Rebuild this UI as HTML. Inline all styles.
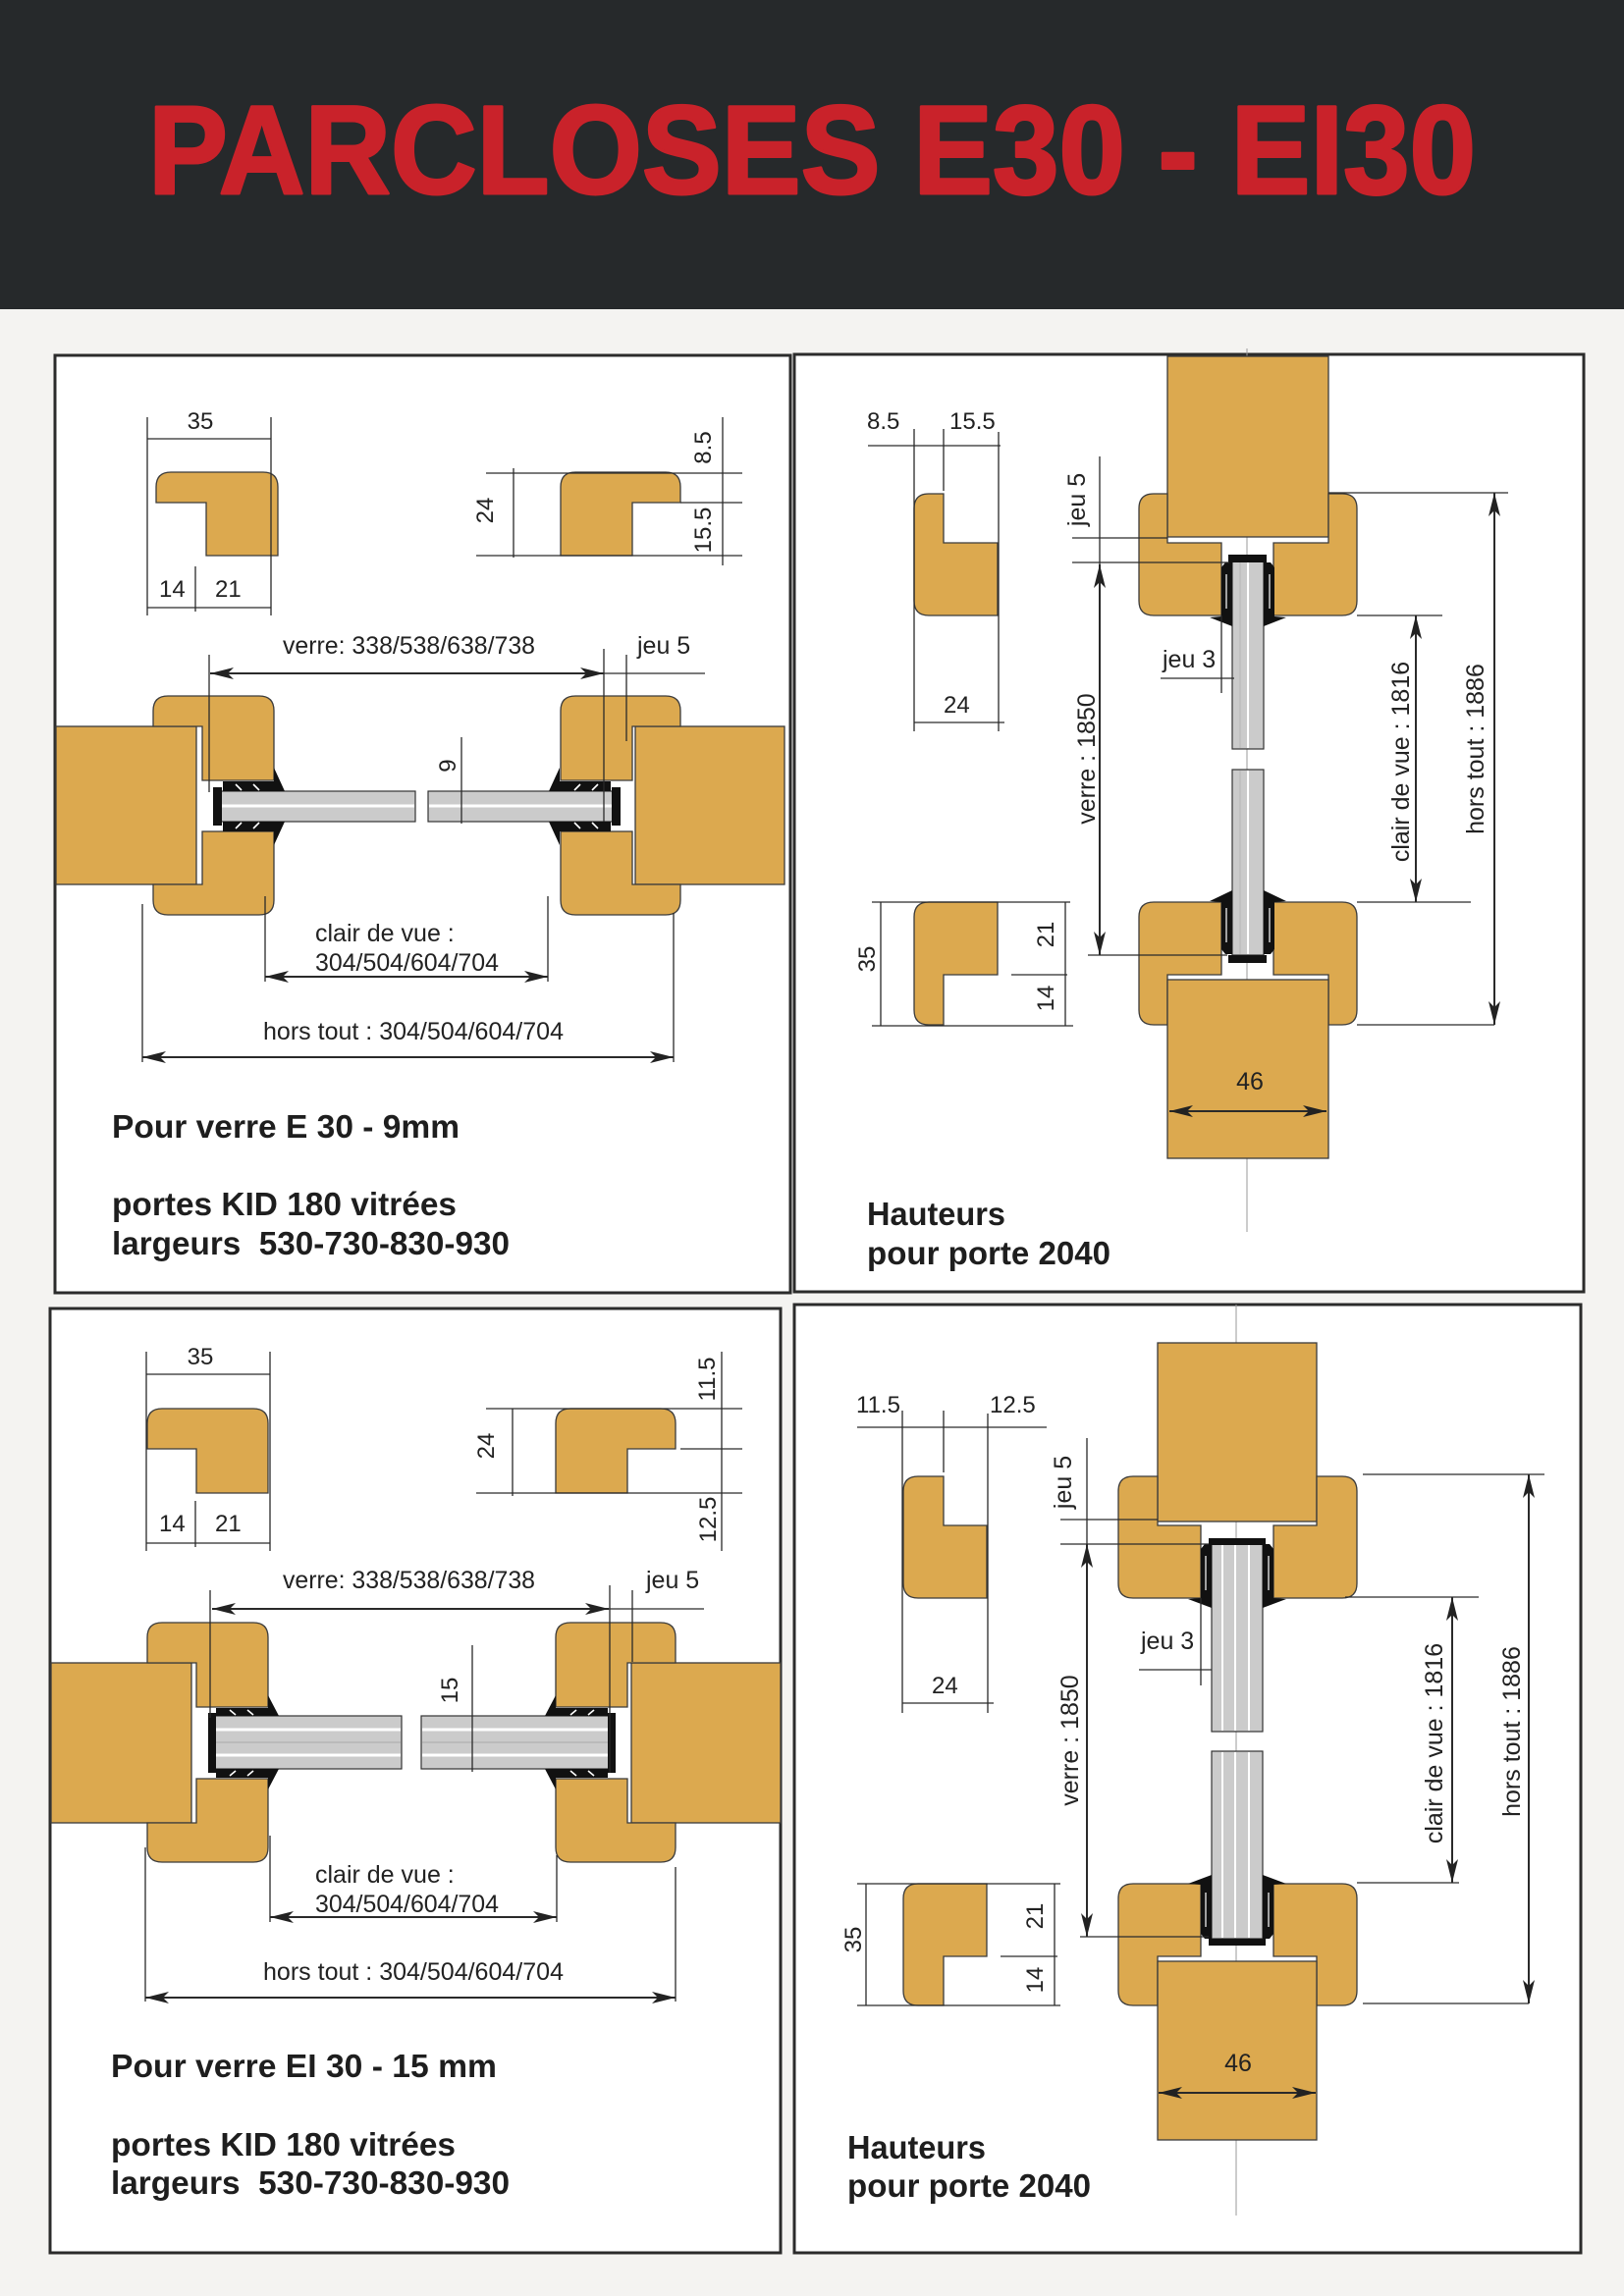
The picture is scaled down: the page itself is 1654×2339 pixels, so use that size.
<!DOCTYPE html>
<html><head><meta charset="utf-8">
<style>
html,body{margin:0;padding:0;background:#f4f3f1;}
svg{display:block}
.w{fill:#dca94f;stroke:#3b3b3b;stroke-width:1.3}
.d{stroke:#2a2a2a;stroke-width:1.3;fill:none}
.c{stroke:#9a9a9a;stroke-width:1;fill:none}
.a{stroke:#2a2a2a;stroke-width:2;fill:none;marker-start:url(#m);marker-end:url(#m)}
.t{font-family:"Liberation Sans",Arial,sans-serif;font-size:24px;fill:#222}
.r{font-size:25px}
.b{font-family:"Liberation Sans",Arial,sans-serif;font-weight:bold;font-size:33px;fill:#1e1e1e}
.g{fill:#cbcbcb;stroke:#333;stroke-width:1.2}
.k{fill:#111}
.p{fill:#fff;stroke:#2b2b2b;stroke-width:3}
.s{stroke:#fff;stroke-width:1.6;fill:none}
.s1{stroke:#fff;stroke-width:1.2;fill:none}
</style></head>
<body>
<svg width="1654" height="2339" viewBox="0 0 1654 2339" xmlns="http://www.w3.org/2000/svg">
<defs>
<marker id="m" viewBox="0 0 24 12" refX="24" refY="6" markerWidth="24" markerHeight="12" markerUnits="userSpaceOnUse" orient="auto-start-reverse"><path d="M0,0L24,6L0,12L6,6Z" fill="#222"/></marker>
</defs>
<rect x="0" y="0" width="1654" height="2339" fill="#f4f3f1"/>
<rect x="0" y="0" width="1654" height="315" fill="#26292b"/>
<text x="151" y="197" font-family="Liberation Sans, Arial, sans-serif" font-weight="bold" font-size="128" fill="#c9222a" stroke="#c9222a" stroke-width="3" stroke-linejoin="round" textLength="1352" lengthAdjust="spacingAndGlyphs">PARCLOSES E30 - EI30</text>

<!-- ============ PANEL 1 ============ -->
<rect class="p" x="56" y="362" width="749" height="955"/>
<path class="w" d="M159,512 L159,496 Q159,481 174,481 L268,481 Q283,481 283,496 L283,566 L210,566 L210,512 Z"/>
<line class="d" x1="150" y1="425" x2="150" y2="627"/>
<line class="d" x1="276" y1="425" x2="276" y2="627"/>
<line class="d" x1="150" y1="447" x2="276" y2="447"/>
<line class="d" x1="150" y1="619" x2="276" y2="619"/>
<line class="d" x1="199" y1="577" x2="199" y2="623"/>
<text class="t" x="204" y="437" text-anchor="middle">35</text>
<text class="t" x="162" y="608">14</text>
<text class="t" x="219" y="608">21</text>
<path class="w" d="M571,566 L571,496 Q571,481 586,481 L678,481 Q693,481 693,496 L693,512 L644,512 L644,566 Z"/>
<line class="d" x1="495" y1="482" x2="756" y2="482"/>
<line class="d" x1="693" y1="512" x2="756" y2="512"/>
<line class="d" x1="485" y1="566" x2="756" y2="566"/>
<line class="d" x1="523" y1="477" x2="523" y2="568"/>
<line class="d" x1="736" y1="425" x2="736" y2="576"/>
<text class="t" x="502" y="520" text-anchor="middle" transform="rotate(-90 502 520)">24</text>
<text class="t" x="724" y="456" text-anchor="middle" transform="rotate(-90 724 456)">8.5</text>
<text class="t" x="724" y="540" text-anchor="middle" transform="rotate(-90 724 540)">15.5</text>
<rect class="w" x="57" y="740" width="143" height="161"/>
<rect class="w" x="647" y="740" width="152" height="161"/>
<path class="w" d="M156,740 L156,724 Q156,709 171,709 L264,709 Q279,709 279,724 L279,795 L206,795 L206,740 Z"/>
<path class="w" d="M206,847 L279,847 L279,917 Q279,932 264,932 L171,932 Q156,932 156,917 L156,901 L206,901 Z"/>
<path class="w" d="M571,795 L571,724 Q571,709 586,709 L678,709 Q693,709 693,724 L693,740 L644,740 L644,795 Z"/>
<path class="w" d="M571,847 L644,847 L644,901 L693,901 L693,917 Q693,932 678,932 L586,932 Q571,932 571,917 Z"/>
<rect class="g" x="225" y="806" width="198" height="31"/>
<rect class="g" x="436" y="806" width="188" height="31"/>
<line x1="226" y1="821" x2="422" y2="821" stroke="#fff" stroke-width="3"/>
<line x1="437" y1="821" x2="623" y2="821" stroke="#fff" stroke-width="3"/>
<rect class="k" x="217" y="802" width="9" height="39"/>
<rect class="k" x="623" y="802" width="9" height="39"/>
<polygon class="k" points="227,796 279,796 279,782 290,806 227,806"/>
<polygon class="k" points="227,847 279,847 279,861 290,837 227,837"/>
<polygon class="k" points="622,796 570,796 570,782 559,806 622,806"/>
<polygon class="k" points="622,847 570,847 570,861 559,837 622,837"/>
<path class="s" d="M240,799 L246,805 M258,799 L264,805 M240,844 L246,838 M258,844 L264,838 M609,799 L603,805 M591,799 L585,805 M609,844 L603,838 M591,844 L585,838"/>
<line class="d" x1="213" y1="667" x2="213" y2="807"/>
<line class="d" x1="615" y1="661" x2="615" y2="837"/>
<line class="d" x1="638" y1="667" x2="638" y2="755"/>
<line class="a" x1="214" y1="686" x2="615" y2="686"/>
<line class="d" x1="615" y1="686" x2="718" y2="686"/>
<line class="d" x1="470" y1="751" x2="470" y2="839"/>
<text class="t" x="464" y="780" text-anchor="middle" transform="rotate(-90 464 780)">9</text>
<text class="t r" x="288" y="666" textLength="257" lengthAdjust="spacingAndGlyphs">verre: 338/538/638/738</text>
<text class="t r" x="649" y="666">jeu 5</text>
<line class="d" x1="270" y1="913" x2="270" y2="1000"/>
<line class="d" x1="558" y1="913" x2="558" y2="1000"/>
<line class="a" x1="270" y1="995" x2="558" y2="995"/>
<line class="d" x1="145" y1="921" x2="145" y2="1082"/>
<line class="d" x1="686" y1="930" x2="686" y2="1082"/>
<line class="a" x1="145" y1="1077" x2="686" y2="1077"/>
<text class="t r" x="321" y="959">clair de vue :</text>
<text class="t r" x="321" y="989" textLength="187" lengthAdjust="spacingAndGlyphs">304/504/604/704</text>
<text class="t r" x="268" y="1059" textLength="306" lengthAdjust="spacingAndGlyphs">hors tout : 304/504/604/704</text>
<text class="b" x="114" y="1159" textLength="354" lengthAdjust="spacingAndGlyphs">Pour verre E 30 - 9mm</text>
<text class="b" x="114" y="1238" textLength="351" lengthAdjust="spacingAndGlyphs">portes KID 180 vitrées</text>
<text class="b" x="114" y="1278" textLength="405" lengthAdjust="spacingAndGlyphs" xml:space="preserve">largeurs  530-730-830-930</text>

<!-- ============ PANEL 2 ============ -->
<rect class="p" x="809" y="361" width="804" height="955"/>
<line class="c" x1="1270" y1="355" x2="1270" y2="1255"/>
<rect class="w" x="1189" y="363" width="164" height="184"/>
<path class="w" d="M1189,503 L1175,503 Q1160,503 1160,518 L1160,612 Q1160,627 1175,627 L1244,627 L1244,553 L1189,553 Z"/>
<path class="w" d="M1353,503 L1367,503 Q1382,503 1382,518 L1382,612 Q1382,627 1367,627 L1297,627 L1297,553 L1353,553 Z"/>
<path class="w" d="M1244,919 L1175,919 Q1160,919 1160,934 L1160,1029 Q1160,1044 1175,1044 L1189,1044 L1189,993 L1244,993 Z"/>
<path class="w" d="M1297,919 L1367,919 Q1382,919 1382,934 L1382,1029 Q1382,1044 1367,1044 L1353,1044 L1353,993 L1297,993 Z"/>
<rect class="w" x="1189" y="998" width="164" height="182"/>
<rect class="g" x="1255" y="572" width="32" height="191"/>
<rect class="g" x="1255" y="784" width="32" height="189"/>
<line x1="1271" y1="573" x2="1271" y2="762" stroke="#fff" stroke-width="2"/>
<line x1="1271" y1="785" x2="1271" y2="972" stroke="#fff" stroke-width="2"/>
<line x1="1263" y1="573" x2="1263" y2="762" stroke="#b5b5b5" stroke-width="1"/>
<line x1="1263" y1="785" x2="1263" y2="972" stroke="#b5b5b5" stroke-width="1"/>
<rect class="k" x="1251" y="565" width="39" height="8"/>
<rect class="k" x="1251" y="973" width="39" height="8"/>
<polygon class="k" points="1244,578 1248,573 1255,573 1255,638 1232,629 1244,628"/>
<polygon class="k" points="1298,578 1294,573 1287,573 1287,638 1310,629 1298,628"/>
<polygon class="k" points="1244,967 1248,972 1255,972 1255,907 1232,918 1244,919"/>
<polygon class="k" points="1298,967 1294,972 1287,972 1287,907 1310,918 1298,919"/>
<path class="s1" d="M1249,585 L1249,620 M1293,585 L1293,620 M1249,960 L1249,925 M1293,960 L1293,925"/>
<path class="w" d="M961,503 L946,503 Q931,503 931,518 L931,612 Q931,627 946,627 L1016,627 L1016,553 L961,553 Z"/>
<line class="d" x1="884" y1="454" x2="1019" y2="454"/>
<line class="d" x1="931" y1="437" x2="931" y2="745"/>
<line class="d" x1="961" y1="437" x2="961" y2="500"/>
<line class="d" x1="1017" y1="440" x2="1017" y2="745"/>
<line class="d" x1="931" y1="736" x2="1023" y2="736"/>
<text class="t" x="883" y="437">8.5</text>
<text class="t" x="967" y="437">15.5</text>
<text class="t" x="961" y="726">24</text>
<path class="w" d="M931,934 Q931,919 946,919 L1016,919 L1016,993 L961,993 L961,1044 L946,1044 Q931,1044 931,1029 Z"/>
<line class="d" x1="888" y1="919" x2="1090" y2="919"/>
<line class="d" x1="888" y1="1045" x2="1093" y2="1045"/>
<line class="d" x1="1030" y1="993" x2="1087" y2="993"/>
<line class="d" x1="897" y1="919" x2="897" y2="1045"/>
<line class="d" x1="1085" y1="919" x2="1085" y2="1045"/>
<text class="t" x="891" y="977" text-anchor="middle" transform="rotate(-90 891 977)">35</text>
<text class="t" x="1073" y="952" text-anchor="middle" transform="rotate(-90 1073 952)">21</text>
<text class="t" x="1073" y="1017" text-anchor="middle" transform="rotate(-90 1073 1017)">14</text>
<line class="d" x1="1092" y1="548" x2="1189" y2="548"/>
<line class="d" x1="1092" y1="573" x2="1252" y2="573"/>
<line class="d" x1="1120" y1="465" x2="1120" y2="575"/>
<line class="a" x1="1120" y1="575" x2="1120" y2="973"/>
<line class="d" x1="1108" y1="973" x2="1250" y2="973"/>
<text class="t r" x="1105" y="509" text-anchor="middle" transform="rotate(-90 1105 509)">jeu 5</text>
<text class="t r" x="1115" y="773" text-anchor="middle" transform="rotate(-90 1115 773)">verre : 1850</text>
<text class="t r" x="1184" y="680">jeu 3</text>
<line class="d" x1="1182" y1="691" x2="1257" y2="691"/>
<line class="d" x1="1244" y1="627" x2="1244" y2="706"/>
<line class="d" x1="1353" y1="502" x2="1536" y2="502"/>
<line class="a" x1="1522" y1="502" x2="1522" y2="1044"/>
<line class="d" x1="1382" y1="1044" x2="1522" y2="1044"/>
<text class="t r" x="1511" y="763" text-anchor="middle" transform="rotate(-90 1511 763)">hors tout : 1886</text>
<line class="d" x1="1382" y1="627" x2="1469" y2="627"/>
<line class="a" x1="1442" y1="627" x2="1442" y2="919"/>
<line class="d" x1="1382" y1="919" x2="1498" y2="919"/>
<text class="t r" x="1435" y="776" text-anchor="middle" transform="rotate(-90 1435 776)">clair de vue : 1816</text>
<text class="t r" x="1273" y="1110" text-anchor="middle">46</text>
<line class="a" x1="1191" y1="1132" x2="1351" y2="1132"/>
<text class="b" x="883" y="1248" textLength="141" lengthAdjust="spacingAndGlyphs">Hauteurs</text>
<text class="b" x="883" y="1288" textLength="248" lengthAdjust="spacingAndGlyphs">pour porte 2040</text>

<!-- ============ PANEL 3 ============ -->
<rect class="p" x="51" y="1333" width="744" height="962"/>
<path class="w" d="M150,1476 L150,1450 Q150,1435 165,1435 L258,1435 Q273,1435 273,1450 L273,1521 L200,1521 L200,1476 Z"/>
<line class="d" x1="149" y1="1377" x2="149" y2="1580"/>
<line class="d" x1="275" y1="1377" x2="275" y2="1580"/>
<line class="d" x1="149" y1="1400" x2="275" y2="1400"/>
<line class="d" x1="149" y1="1572" x2="275" y2="1572"/>
<line class="d" x1="199" y1="1529" x2="199" y2="1576"/>
<text class="t" x="204" y="1390" text-anchor="middle">35</text>
<text class="t" x="162" y="1560">14</text>
<text class="t" x="219" y="1560">21</text>
<path class="w" d="M566,1521 L566,1450 Q566,1435 581,1435 L673,1435 Q688,1435 688,1450 L688,1476 L639,1476 L639,1521 Z"/>
<line class="d" x1="495" y1="1435" x2="756" y2="1435"/>
<line class="d" x1="693" y1="1476" x2="756" y2="1476"/>
<line class="d" x1="485" y1="1521" x2="756" y2="1521"/>
<line class="d" x1="522" y1="1435" x2="522" y2="1524"/>
<line class="d" x1="735" y1="1377" x2="735" y2="1580"/>
<text class="t" x="503" y="1473" text-anchor="middle" transform="rotate(-90 503 1473)">24</text>
<text class="t" x="728" y="1405" text-anchor="middle" transform="rotate(-90 728 1405)">11.5</text>
<text class="t" x="729" y="1548" text-anchor="middle" transform="rotate(-90 729 1548)">12.5</text>
<rect class="w" x="52" y="1694" width="143" height="163"/>
<rect class="w" x="643" y="1694" width="152" height="163"/>
<path class="w" d="M150,1694 L150,1668 Q150,1653 165,1653 L258,1653 Q273,1653 273,1668 L273,1739 L200,1739 L200,1694 Z"/>
<path class="w" d="M200,1812 L273,1812 L273,1882 Q273,1897 258,1897 L165,1897 Q150,1897 150,1882 L150,1857 L200,1857 Z"/>
<path class="w" d="M566,1739 L566,1668 Q566,1653 581,1653 L673,1653 Q688,1653 688,1668 L688,1694 L639,1694 L639,1739 Z"/>
<path class="w" d="M566,1812 L639,1812 L639,1857 L688,1857 L688,1882 Q688,1897 673,1897 L581,1897 Q566,1897 566,1882 Z"/>
<rect class="g" x="219" y="1748" width="190" height="54"/>
<rect class="g" x="429" y="1748" width="191" height="54"/>
<path d="M220,1762 L408,1762 M430,1762 L619,1762 M220,1788 L408,1788 M430,1788 L619,1788" stroke="#fff" stroke-width="3"/>
<path d="M220,1775 L408,1775 M430,1775 L619,1775" stroke="#a9a9a9" stroke-width="1"/>
<rect class="k" x="212" y="1745" width="8" height="61"/>
<rect class="k" x="619" y="1745" width="8" height="61"/>
<polygon class="k" points="220,1740 273,1740 273,1727 284,1748 220,1748"/>
<polygon class="k" points="220,1811 273,1811 273,1823 284,1802 220,1802"/>
<polygon class="k" points="619,1740 566,1740 566,1727 555,1748 619,1748"/>
<polygon class="k" points="619,1811 566,1811 566,1823 555,1802 619,1802"/>
<path class="s" d="M234,1742 L240,1747 M252,1742 L258,1747 M234,1809 L240,1804 M252,1809 L258,1804 M605,1742 L599,1747 M587,1742 L581,1747 M605,1809 L599,1804 M587,1809 L581,1804"/>
<line class="d" x1="214" y1="1620" x2="214" y2="1750"/>
<line class="d" x1="621" y1="1615" x2="621" y2="1806"/>
<line class="d" x1="644" y1="1620" x2="644" y2="1693"/>
<line class="a" x1="216" y1="1639" x2="620" y2="1639"/>
<line class="d" x1="620" y1="1639" x2="717" y2="1639"/>
<text class="t r" x="288" y="1618" textLength="257" lengthAdjust="spacingAndGlyphs">verre: 338/538/638/738</text>
<text class="t r" x="658" y="1618">jeu 5</text>
<line class="d" x1="481" y1="1676" x2="481" y2="1805"/>
<text class="t" x="466" y="1722" text-anchor="middle" transform="rotate(-90 466 1722)">15</text>
<line class="d" x1="275" y1="1870" x2="275" y2="1958"/>
<line class="d" x1="567" y1="1890" x2="567" y2="1958"/>
<line class="a" x1="275" y1="1953" x2="567" y2="1953"/>
<line class="d" x1="148" y1="1882" x2="148" y2="2039"/>
<line class="d" x1="688" y1="1902" x2="688" y2="2039"/>
<line class="a" x1="148" y1="2035" x2="688" y2="2035"/>
<text class="t r" x="321" y="1918">clair de vue :</text>
<text class="t r" x="321" y="1948" textLength="187" lengthAdjust="spacingAndGlyphs">304/504/604/704</text>
<text class="t r" x="268" y="2017" textLength="306" lengthAdjust="spacingAndGlyphs">hors tout : 304/504/604/704</text>
<text class="b" x="113" y="2116" textLength="393" lengthAdjust="spacingAndGlyphs">Pour verre EI 30 - 15 mm</text>
<text class="b" x="113" y="2196" textLength="351" lengthAdjust="spacingAndGlyphs">portes KID 180 vitrées</text>
<text class="b" x="113" y="2235" textLength="406" lengthAdjust="spacingAndGlyphs" xml:space="preserve">largeurs  530-730-830-930</text>

<!-- ============ PANEL 4 ============ -->
<rect class="p" x="809" y="1329" width="801" height="966"/>
<line class="c" x1="1259" y1="1329" x2="1259" y2="2257"/>
<rect class="w" x="1179" y="1368" width="162" height="182"/>
<path class="w" d="M1179,1504 L1154,1504 Q1139,1504 1139,1519 L1139,1613 Q1139,1628 1154,1628 L1223,1628 L1223,1554 L1179,1554 Z"/>
<path class="w" d="M1341,1504 L1367,1504 Q1382,1504 1382,1519 L1382,1613 Q1382,1628 1367,1628 L1297,1628 L1297,1554 L1341,1554 Z"/>
<path class="w" d="M1223,1919 L1154,1919 Q1139,1919 1139,1934 L1139,2028 Q1139,2043 1154,2043 L1179,2043 L1179,1993 L1223,1993 Z"/>
<path class="w" d="M1297,1919 L1367,1919 Q1382,1919 1382,1934 L1382,2028 Q1382,2043 1367,2043 L1341,2043 L1341,1993 L1297,1993 Z"/>
<rect class="w" x="1179" y="1998" width="162" height="182"/>
<rect class="g" x="1234" y="1573" width="52" height="191"/>
<rect class="g" x="1234" y="1784" width="52" height="191"/>
<path d="M1245,1574 L1245,1763 M1258,1574 L1258,1763 M1272,1574 L1272,1763 M1245,1785 L1245,1974 M1258,1785 L1258,1974 M1272,1785 L1272,1974" stroke="#fff" stroke-width="2"/>
<rect class="k" x="1231" y="1567" width="58" height="7"/>
<rect class="k" x="1231" y="1975" width="58" height="7"/>
<polygon class="k" points="1223,1578 1227,1573 1234,1573 1234,1638 1210,1629 1223,1628"/>
<polygon class="k" points="1297,1578 1293,1573 1286,1573 1286,1638 1310,1629 1297,1628"/>
<polygon class="k" points="1223,1970 1227,1975 1234,1975 1234,1910 1210,1919 1223,1920"/>
<polygon class="k" points="1297,1970 1293,1975 1286,1975 1286,1910 1310,1919 1297,1920"/>
<path class="s1" d="M1228,1585 L1228,1620 M1292,1585 L1292,1620 M1228,1963 L1228,1928 M1292,1963 L1292,1928"/>
<path class="w" d="M961,1504 L935,1504 Q920,1504 920,1519 L920,1613 Q920,1628 935,1628 L1005,1628 L1005,1554 L961,1554 Z"/>
<line class="d" x1="873" y1="1454" x2="1066" y2="1454"/>
<line class="d" x1="919" y1="1437" x2="919" y2="1745"/>
<line class="d" x1="961" y1="1437" x2="961" y2="1500"/>
<line class="d" x1="1006" y1="1440" x2="1006" y2="1745"/>
<line class="d" x1="919" y1="1735" x2="1012" y2="1735"/>
<text class="t" x="872" y="1439">11.5</text>
<text class="t" x="1008" y="1439">12.5</text>
<text class="t" x="949" y="1725">24</text>
<path class="w" d="M920,1934 Q920,1919 935,1919 L1005,1919 L1005,1993 L961,1993 L961,2043 L935,2043 Q920,2043 920,2028 Z"/>
<line class="d" x1="873" y1="1919" x2="1080" y2="1919"/>
<line class="d" x1="873" y1="2043" x2="1080" y2="2043"/>
<line class="d" x1="1019" y1="1993" x2="1077" y2="1993"/>
<line class="d" x1="882" y1="1919" x2="882" y2="2043"/>
<line class="d" x1="1074" y1="1919" x2="1074" y2="2043"/>
<text class="t" x="877" y="1976" text-anchor="middle" transform="rotate(-90 877 1976)">35</text>
<text class="t" x="1062" y="1952" text-anchor="middle" transform="rotate(-90 1062 1952)">21</text>
<text class="t" x="1062" y="2017" text-anchor="middle" transform="rotate(-90 1062 2017)">14</text>
<line class="d" x1="1080" y1="1548" x2="1179" y2="1548"/>
<line class="d" x1="1080" y1="1573" x2="1231" y2="1573"/>
<line class="d" x1="1107" y1="1465" x2="1107" y2="1573"/>
<line class="a" x1="1107" y1="1573" x2="1107" y2="1973"/>
<line class="d" x1="1100" y1="1973" x2="1231" y2="1973"/>
<text class="t r" x="1091" y="1510" text-anchor="middle" transform="rotate(-90 1091 1510)">jeu 5</text>
<text class="t r" x="1098" y="1773" text-anchor="middle" transform="rotate(-90 1098 1773)">verre : 1850</text>
<text class="t r" x="1162" y="1680">jeu 3</text>
<line class="d" x1="1160" y1="1701" x2="1234" y2="1701"/>
<line class="d" x1="1223" y1="1628" x2="1223" y2="1717"/>
<line class="d" x1="1388" y1="1502" x2="1573" y2="1502"/>
<line class="a" x1="1557" y1="1502" x2="1557" y2="2041"/>
<line class="d" x1="1388" y1="2041" x2="1557" y2="2041"/>
<text class="t r" x="1548" y="1764" text-anchor="middle" transform="rotate(-90 1548 1764)">hors tout : 1886</text>
<line class="d" x1="1370" y1="1627" x2="1506" y2="1627"/>
<line class="a" x1="1479" y1="1627" x2="1479" y2="1918"/>
<line class="d" x1="1382" y1="1918" x2="1486" y2="1918"/>
<text class="t r" x="1469" y="1776" text-anchor="middle" transform="rotate(-90 1469 1776)">clair de vue : 1816</text>
<text class="t r" x="1261" y="2110" text-anchor="middle">46</text>
<line class="a" x1="1180" y1="2132" x2="1340" y2="2132"/>
<text class="b" x="863" y="2199" textLength="141" lengthAdjust="spacingAndGlyphs">Hauteurs</text>
<text class="b" x="863" y="2238" textLength="248" lengthAdjust="spacingAndGlyphs">pour porte 2040</text>
</svg>
</body></html>
